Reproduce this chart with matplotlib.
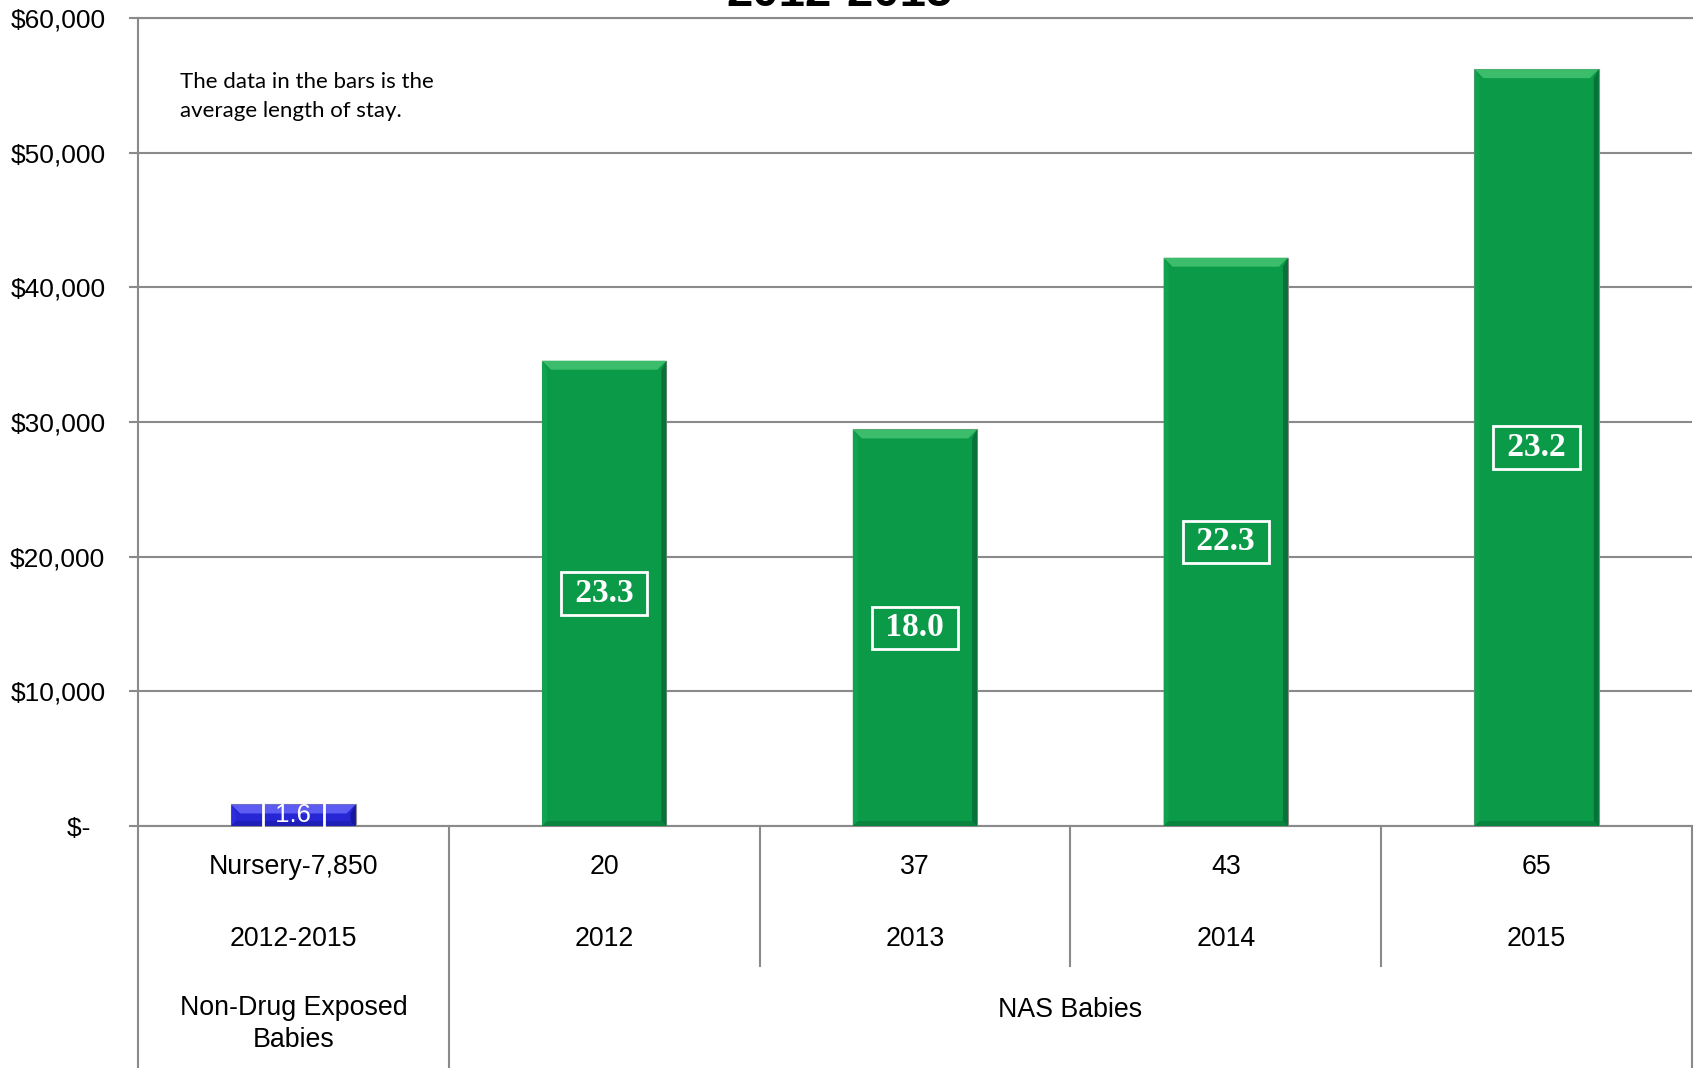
import numpy as np
import matplotlib
matplotlib.use("Agg")
import matplotlib.pyplot as plt
from matplotlib.patches import Polygon

plt.rcParams["font.family"] = ["Liberation Sans", "DejaVu Sans"]

# 数据
categories = ["Nursery-7,850", "20", "37", "43", "65"]
periods = ["2012-2015", "2012", "2013", "2014", "2015"]
groups = ["Non-Drug Exposed\nBabies", "NAS Babies"]
group_spans = [(0, 0), (1, 4)]
avg_cost = [1600, 34550, 29450, 42200, 56200]
avg_los = [1.6, 23.3, 18.0, 22.3, 23.2]
y_ticks = [0, 10000, 20000, 30000, 40000, 50000, 60000]
y_ticklabels = ["$-  ", "$10,000", "$20,000", "$30,000", "$40,000", "$50,000", "$60,000"]
note_lines = ["The data in the bars is the", "average length of stay."]

# 颜色: 主色, 顶部高光, 右侧阴影, 左侧, 底部
green = ["#0B9A48", "#3CBD6C", "#07733A", "#10A34F", "#08843E"]
blue = ["#2626D4", "#5C5CF2", "#1616A0", "#2C2CDC", "#1E1EB8"]
bar_styles = [blue, green, green, green, green]

W, H = 1700, 1068
fig = plt.figure(figsize=(W / 100, H / 100), dpi=100)
ax_l, ax_r, ax_t, ax_b = 138, 1692, 18, 826
ax = fig.add_axes([ax_l / W, 1 - ax_b / H, (ax_r - ax_l) / W, (ax_b - ax_t) / H])

x = np.arange(len(avg_cost))
bar_w = 0.4
ax.set_xlim(-0.5, len(x) - 0.5)
ax.set_ylim(0, 60000)

grid_c = "#8a8a8a"
ax.set_yticks(y_ticks)
ax.set_yticklabels(y_ticklabels, fontsize=19)
ax.set_xticks([])
ax.tick_params(axis="y", direction="out", length=6.5, width=1.5, color=grid_c, pad=17)
ax.yaxis.grid(True, color=grid_c, lw=1.5, zorder=0)
ax.set_axisbelow(True)
for s in ["left", "top", "bottom"]:
    ax.spines[s].set_color(grid_c)
    ax.spines[s].set_linewidth(1.5)
ax.spines["right"].set_visible(False)

# 柱子
ax.bar(x, avg_cost, width=bar_w, color=[c[0] for c in bar_styles],
       edgecolor="#8c8c8c", linewidth=0.8, zorder=3)

# 立体效果（按像素换算成数据单位）
px_x = (len(x)) / (ax_r - ax_l)
px_y = 60000 / (ax_b - ax_t)
bev_w, bev_h, side = 9 * px_x, 9 * px_y, 5 * px_x
for xi, v, c in zip(x, avg_cost, bar_styles):
    x0, x1 = xi - bar_w / 2, xi + bar_w / 2
    bh = min(bev_h, v * 0.45)
    polys = [
        ([(x0, 0), (x0, v), (x0 + side, v - bh), (x0 + side, 0)], c[3]),
        ([(x1, 0), (x1, v), (x1 - side, v - bh), (x1 - side, 0)], c[2]),
        ([(x0, 0), (x1, 0), (x1 - side, 5 * px_y), (x0 + side, 5 * px_y)], c[4]),
        ([(x0, v), (x1, v), (x1 - bev_w, v - bh), (x0 + bev_w, v - bh)], c[1]),
    ]
    for pts, col in polys:
        ax.add_patch(Polygon(pts, closed=True, facecolor=col, edgecolor="none", zorder=4))

# 柱内数值（平均住院天数）
for xi, v, los in zip(x, avg_cost, avg_los):
    if xi == 0:
        ax.text(xi, v / 2, f" {los:.1f} ", ha="center", va="center", color="white",
                fontsize=18.5, zorder=6,
                bbox=dict(boxstyle="square,pad=0.2", facecolor="none", edgecolor="white", lw=2))
    else:
        ax.text(xi, v / 2, f" {los:.1f} ", ha="center", va="center", color="white",
                fontsize=24, fontweight="bold", family=["Liberation Serif", "DejaVu Serif"],
                zorder=6,
                bbox=dict(boxstyle="square,pad=0.17", facecolor="none", edgecolor="white", lw=2))

# 下方表格
trans = ax.get_xaxis_transform()
span = ax_b - ax_t
y_bottom = -(H - ax_b) / span
y_mid = -(966 - ax_b) / span
for b in np.arange(len(x) + 1) - 0.5:
    if b in (-0.5, 0.5, len(x) - 0.5):
        y_end = y_bottom
    else:
        y_end = y_mid
    ax.plot([b, b], [0, y_end], color=grid_c, lw=1.5, transform=trans, clip_on=False)

row1_y = -(867 - ax_b) / span
row2_y = -(939 - ax_b) / span
for xi, cat, per in zip(x, categories, periods):
    ax.text(xi, row1_y, cat, transform=trans, ha="center", va="center", fontsize=19.3)
    ax.text(xi, row2_y, per, transform=trans, ha="center", va="center", fontsize=19.3)
ax.text(0, -(1024 - ax_b) / span, groups[0], transform=trans, ha="center", va="center",
        fontsize=19.3, linespacing=1.3)
a, b = group_spans[1]
ax.text((a + b) / 2, -(1010 - ax_b) / span, groups[1], transform=trans, ha="center",
        va="center", fontsize=19.3)

# 注释
for i, line in enumerate(note_lines):
    fig.text(180 / W, 1 - (88 + 29 * i) / H, line, ha="left", va="baseline",
             fontsize=16, family=["Lato", "DejaVu Sans"])

# 标题（大部分在画布外）
fig.text(840 / W, 1 - 5.5 / H, "2012-2015", ha="center", va="baseline",
         fontsize=34, fontweight="bold")

fig.savefig("out.png", dpi=100)
